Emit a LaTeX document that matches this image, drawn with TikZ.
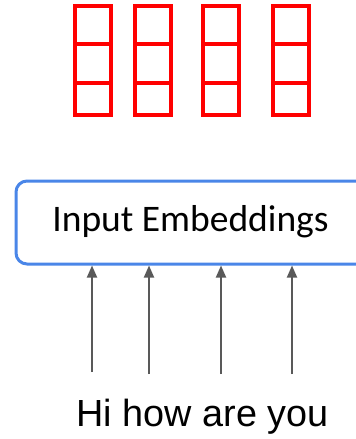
\documentclass[tikz,border=0pt]{standalone}
\usepackage{fontspec}
\setmainfont{Liberation Sans}
\newfontfamily\boxfont{Carlito}
\usetikzlibrary{arrows.meta}

\definecolor{cellred}{RGB}{255,0,0}
\definecolor{boxblue}{RGB}{74,134,232}
\definecolor{arrowgray}{RGB}{89,89,89}

\tikzset{
  cell/.style={draw=cellred, line width=3.5pt},
  embbox/.style={draw=boxblue, line width=3pt, rounded corners=11pt,
    minimum width=356pt, minimum height=83pt, inner sep=0pt},
  feed/.style={arrowgray, line width=1.8pt,
    -{Triangle[length=12pt,width=10pt]}},
}

\begin{document}
\begin{tikzpicture}[x=1pt,y=1pt]
    \useasboundingbox (0,0) rectangle (356,-439);
    \clip (0,0) rectangle (356,-439);

    % embedding vectors, three cells each
    \foreach \x in {75,135,203,273} {
        \draw[cell] (\x,-6) rectangle (\x+36,-115);
        \draw[cell] (\x,-44) -- (\x+36,-44);
        \draw[cell] (\x,-83) -- (\x+36,-83);
    }

    \node[embbox] (emb) at (194,-222.5) {};
    \node[font=\boxfont\fontsize{37.5}{40}\selectfont] (embtext) at (190.5,-222) {Input Embeddings};

    \node[anchor=base, font=\fontsize{37.8}{40}\selectfont] (words) at (202.5,-426) {Hi how are you};

    \coordinate (w1) at (92,-372);
    \coordinate (w2) at (149,-374);
    \coordinate (w3) at (221,-374);
    \coordinate (w4) at (292,-374);
    \foreach \i in {1,...,4}
        \draw[feed] (w\i) -- (w\i |- emb.south);
\end{tikzpicture}
\end{document}
